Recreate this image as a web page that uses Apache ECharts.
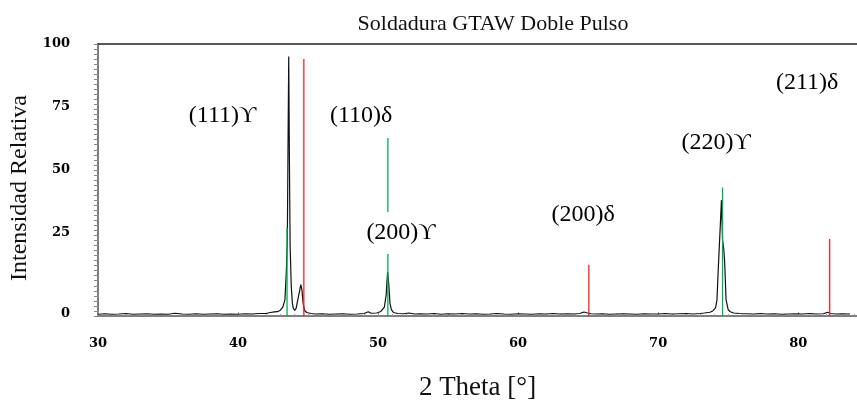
<!DOCTYPE html>
<html>
<head>
<meta charset="utf-8">
<script src="https://cdn.jsdelivr.net/npm/echarts@6/dist/echarts.min.js"></script>
<style>
html, body { margin: 0; padding: 0; background: #fff; }
#chart { width: 857px; height: 403px; }
</style>
</head>
<body>
<div id="chart"></div>
<script>
'use strict';

// XRD pattern (black trace)
const twoTheta = [
    30.0, 30.5, 31.0, 31.5, 32.0, 32.5, 33.0, 33.5, 34.0, 34.5, 35.0, 35.5, 36.0, 36.5,
    37.0, 37.5, 38.0, 38.5, 39.0, 39.5, 40.0, 40.5, 41.0, 41.5, 42.0, 42.3, 42.6, 42.8,
    43.0, 43.2, 43.35, 43.45, 43.52, 43.57, 43.62, 43.67, 43.72, 43.8, 43.88, 43.95,
    44.05, 44.15, 44.25, 44.4, 44.48, 44.56, 44.65, 44.75, 44.9, 45.2, 45.5, 46.0, 46.5,
    47.0, 47.5, 48.0, 48.5, 49.0, 49.3, 49.5, 49.9, 50.2, 50.45, 50.58, 50.68, 50.76,
    50.85, 50.95, 51.1, 51.4, 51.8, 52.2, 52.6, 53.0, 53.5, 54.0, 54.5, 55.0, 55.5, 56.0,
    56.5, 57.0, 57.5, 58.0, 58.5, 59.0, 59.5, 60.0, 60.5, 61.0, 61.5, 62.0, 62.5, 63.0,
    63.5, 64.0, 64.4, 64.7, 64.9, 65.2, 65.6, 66.0, 66.5, 67.0, 67.5, 68.0, 68.5, 69.0,
    69.5, 70.0, 70.5, 71.0, 71.5, 72.0, 72.5, 73.0, 73.3, 73.7, 73.9, 74.1, 74.2, 74.3,
    74.43, 74.52, 74.6, 74.68, 74.75, 74.85, 75.0, 75.15, 75.4, 75.8, 76.3, 76.8, 77.3,
    77.8, 78.3, 78.8, 79.3, 79.8, 80.3, 80.8, 81.3, 81.8, 82.1, 82.3, 82.7, 83.2, 83.7, 84.2
];
const intensity = [
    -7.3, -7.1, -7.3, -7.2, -7.0, -7.3, -7.2, -7.1, -7.3, -7.2, -7.3, -6.9, -7.2, -7.3,
    -7.1, -7.3, -7.2, -7.1, -7.3, -7.2, -7.3, -7.1, -7.2, -7.0, -7.0, -6.6, -6.4, -6.3,
    -5.8, -4.5, -1.5, 10, 22, 60, 95, 53, 20, 4, -3, -5,
    -5.8, -5.0, -2.0, 2.0, 4.5, 2.5, -3.0, -5.8, -6.6, -7.0, -7.2, -7.1, -7.3,
    -7.2, -7.1, -7.3, -7.2, -7.0, -6.3, -6.9, -6.8, -6.2, -4.5, 0.5, 9.5, 5.0,
    -3.0, -5.5, -6.6, -7.0, -7.1, -6.8, -7.2, -7.1, -7.2, -7.0, -7.3, -7.1, -7.2, -7.0,
    -7.2, -7.1, -7.3, -7.2, -7.0, -7.2, -7.3, -7.1, -7.2, -7.3, -7.1, -7.2, -7.0, -7.2,
    -7.1, -7.2, -7.0, -6.4, -6.7, -7.1, -7.2, -7.1, -7.3, -7.2, -7.1, -7.2, -7.3, -7.1,
    -7.2, -7.2, -7.0, -7.2, -7.1, -7.0, -7.2, -7.0, -6.8, -6.5, -6.0, -4.8, -1.6, 11.5,
    27, 38, 22, 19, 13.5, -1.6, -5.5, -6.3, -6.8, -7.0, -7.1, -7.2, -7.0,
    -7.2, -7.1, -7.3, -7.2, -7.1, -7.2, -7.0, -7.2, -7.1, -6.5, -7.0, -7.2, -7.1, -7.2
];

// Reference lines: delta (red) and gamma (green)
const deltaPos = [44.7, 65.05, 82.25];
const deltaHeight = [94, 12.3, 22.6];
const gammaPos = [43.5, 50.7, 74.6];
const gammaHeight = [27, 62.7, 43];

// Peak annotations
const peakNames = ['(111)\u03D2', '(110)\u03B4', '(200)\u03D2', '(200)\u03B4', '(220)\u03D2', '(211)\u03B4'];
const peakLabelX = [38.9, 48.79, 51.64, 64.64, 74.14, 80.64];
const peakLabelY = [71.4, 71.4, 25.0, 32.1, 60.7, 84.5];

// Axis tick labels
const yLabelValues = [-7, 25, 50, 75, 100];
const yLabelTexts = ['0', '25', '50', '75', '100'];
const xMin = 30, xMax = 84.2, yMin = -8, yMax = 100;

const serif = '"Liberation Serif", "Times New Roman", serif';
const tickFont = '"DejaVu Serif", serif';

const yMinorTicks = [];
for (let v = yMin; v <= yMax; v += 2) yMinorTicks.push(v);

const refLine = (x, h, color) => ({
    type: 'line',
    data: [[x, yMin], [x, h]],
    symbol: 'none',
    silent: true,
    z: 3,
    lineStyle: { color: color, width: 1.3 }
});

const chart = echarts.init(document.getElementById('chart'));

chart.setOption({
    animation: false,
    title: {
        text: 'Soldadura GTAW Doble Pulso',
        left: 488,
        textAlign: 'center',
        top: 8,
        textStyle: { fontFamily: serif, fontSize: 22, fontWeight: 'normal', color: '#111' }
    },
    grid: { left: 98, right: 0, top: 44, bottom: 87, outerBoundsMode: 'none' },
    xAxis: [
        {
            type: 'value',
            min: xMin,
            max: xMax,
            interval: 10,
            name: '2 Theta [\u00B0]',
            nameLocation: 'middle',
            nameGap: 58,
            nameTextStyle: { fontFamily: serif, fontSize: 27, color: '#111' },
            axisLine: { onZero: false, lineStyle: { color: '#808080', width: 2 } },
            axisTick: { inside: true, length: 4, lineStyle: { color: '#999' } },
            minorTick: { show: true, splitNumber: 10, length: 2, lineStyle: { color: '#999' } },
            axisLabel: {
                margin: 21,
                fontFamily: tickFont,
                fontWeight: 'bold',
                fontSize: 13,
                color: '#000',
                showMaxLabel: false
            },
            splitLine: { show: false }
        },
        {
            type: 'value',
            position: 'top',
            min: xMin,
            max: xMax,
            axisLine: { show: true, onZero: false, lineStyle: { color: '#222', width: 1.5 } },
            axisTick: { show: false },
            axisLabel: { show: false },
            splitLine: { show: false }
        }
    ],
    yAxis: {
        type: 'value',
        min: yMin,
        max: yMax,
        name: 'Intensidad Relativa',
        nameLocation: 'middle',
        nameGap: 64,
        nameTextStyle: { fontFamily: serif, fontSize: 24, color: '#111', padding: [0, 16, 0, 0] },
        axisLine: { show: true, onZero: false, lineStyle: { color: '#555', width: 1.5 } },
        axisTick: { show: true, length: 4, customValues: yMinorTicks, lineStyle: { color: '#888' } },
        axisLabel: {
            customValues: yLabelValues,
            formatter: v => yLabelTexts[yLabelValues.indexOf(v)],
            margin: 28,
            fontFamily: tickFont,
            fontWeight: 'bold',
            fontSize: 13,
            color: '#000'
        },
        splitLine: { show: false }
    },
    series: [
        {
            type: 'line',
            data: twoTheta.map((x, i) => [x, intensity[i]]),
            symbol: 'none',
            z: 2,
            lineStyle: { color: '#111', width: 1.2 }
        },
        ...deltaPos.map((x, i) => refLine(x, deltaHeight[i], '#ff2020')),
        ...gammaPos.map((x, i) => refLine(x, gammaHeight[i], '#00b050')),
        {
            type: 'scatter',
            symbolSize: 0,
            z: 10,
            silent: true,
            itemStyle: { opacity: 1 },
            data: peakNames.map((n, i) => ({ name: n, value: [peakLabelX[i], peakLabelY[i]] })),
            label: {
                show: true,
                position: 'inside',
                formatter: '{b}',
                fontFamily: serif,
                fontSize: 24,
                color: '#000',
                opacity: 1,
                backgroundColor: '#fff',
                padding: [9, 2]
            }
        }
    ]
});
</script>
</body>
</html>
